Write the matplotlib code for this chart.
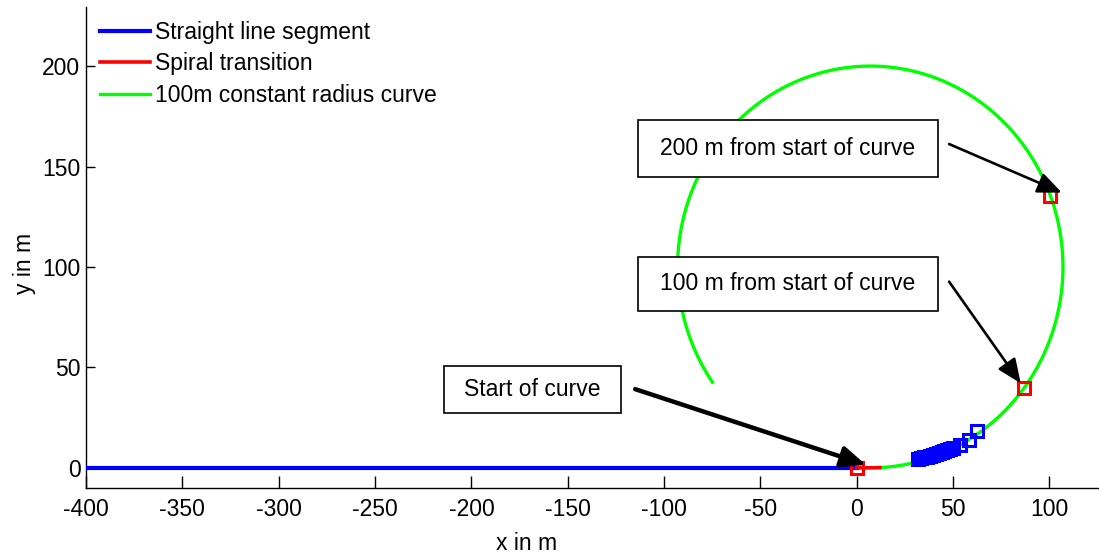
import numpy as np
import matplotlib
matplotlib.use("Agg")
import matplotlib.pyplot as plt
from matplotlib.patches import Rectangle

# ---- data ----
straight_x = [-400, 0]
straight_y = [0, 0]

spiral_x = [0, 3, 6, 9, 12]
spiral_y = [0, 0.01, 0.04, 0.09, 0.15]

curve_radius = 100.0
curve_center = (7.0, 100.0)
curve_start_deg = -87.0
curve_end_deg = 215.0

blue_sq_x = [32, 33.5, 35, 36.5, 38, 39.5, 41, 42.5, 44, 45.5, 47, 48.5, 50, 53.5, 58, 62.5]
blue_sq_y = [4.5, 4.8, 5.2, 5.6, 6.0, 6.4, 6.8, 7.3, 7.8, 8.3, 8.8, 9.3, 9.9, 11.5, 14.0, 18.5]

red_sq_x = [0, 87, 100.3]
red_sq_y = [0, 40, 135.5]

legend_labels = ["Straight line segment", "Spiral transition", "100m constant radius curve"]
x_ticks = [-400, -350, -300, -250, -200, -150, -100, -50, 0, 50, 100]
y_ticks = [0, 50, 100, 150, 200]

notes = ["Start of curve", "100 m from start of curve", "200 m from start of curve"]

# ---- style ----
plt.rcParams['font.family'] = ['Liberation Sans', 'DejaVu Sans']
plt.rcParams['axes.unicode_minus'] = False
FS = 16.5

fig = plt.figure(figsize=(10.99, 5.55), dpi=100)
ax = fig.add_axes([86/1099, 67/555, (1099-86)/1099, (548-67)/555])

theta = np.deg2rad(np.linspace(curve_start_deg, curve_end_deg, 400))
arc_x = curve_center[0] + curve_radius*np.cos(theta)
arc_y = curve_center[1] + curve_radius*np.sin(theta)

l1, = ax.plot(straight_x, straight_y, color='#0000ff', lw=3.0, label=legend_labels[0], zorder=3)
l3, = ax.plot(arc_x, arc_y, color='#00ff00', lw=2.4, label=legend_labels[2], zorder=2)
l2, = ax.plot(spiral_x, spiral_y, color='#ff0000', lw=2.6, label=legend_labels[1], zorder=3)

ax.plot(blue_sq_x, blue_sq_y, ls='none', marker='s', ms=8.0, mfc='none',
        mec='#0000ff', mew=2.2, zorder=4)
ax.plot(red_sq_x, red_sq_y, ls='none', marker='s', ms=8.0, mfc='none',
        mec='#ff0000', mew=2.2, zorder=4)

ax.set_xlim(-400, 125.7)
ax.set_ylim(-10, 229.4)
ax.set_xticks(x_ticks)
ax.set_yticks(y_ticks)
ax.tick_params(axis='both', direction='in', labelsize=FS, width=1.0, color='k')
ax.tick_params(axis='x', length=8.6, pad=7)
ax.tick_params(axis='y', length=6.5, pad=4)
for s in ['top', 'right']:
    ax.spines[s].set_visible(False)
for s in ['left', 'bottom']:
    ax.spines[s].set_linewidth(1.0)

fig.text(527/1099, 1-543/555, "x in m", ha='center', va='center', fontsize=FS)
fig.text(25/1099, 1-263/555, "y in m", ha='center', va='center', fontsize=FS, rotation=90)

leg = ax.legend(handles=[l1, l2, l3], loc='upper left', bbox_to_anchor=(0.0, 1.0),
                frameon=False, fontsize=FS, handlelength=2.2, handletextpad=0.2,
                labelspacing=0.38, borderaxespad=0.3, borderpad=0.3)

# annotation boxes (data coords)
boxes = [(-214.4, 27.2, 91.9, 23.5), (-113.6, 78.3, 155.6, 26.5), (-113.6, 144.9, 155.6, 28.2)]
tails = [(-115, 39.2), (47.9, 92.7), (47.9, 161.2)]
tips = [(4.8, 1.5), (85.1, 42.1), (106.4, 137.0)]
lws = [3.2, 1.9, 1.9]
for (bx, by, bw, bh), txt, tail, tip, lw in zip(boxes, notes, tails, tips, lws):
    ax.add_patch(Rectangle((bx, by), bw, bh, fill=True, facecolor='white',
                           edgecolor='k', lw=1.2, zorder=5))
    ax.text(bx + bw/2, by + bh/2, txt, ha='center', va='center', fontsize=FS, zorder=6)
    ax.annotate('', xy=tip, xytext=tail,
                arrowprops=dict(arrowstyle='-|>,head_length=0.7,head_width=0.3', color='k',
                                lw=lw, mutation_scale=21, shrinkA=0, shrinkB=0), zorder=6)

fig.savefig("out.png", dpi=100)
